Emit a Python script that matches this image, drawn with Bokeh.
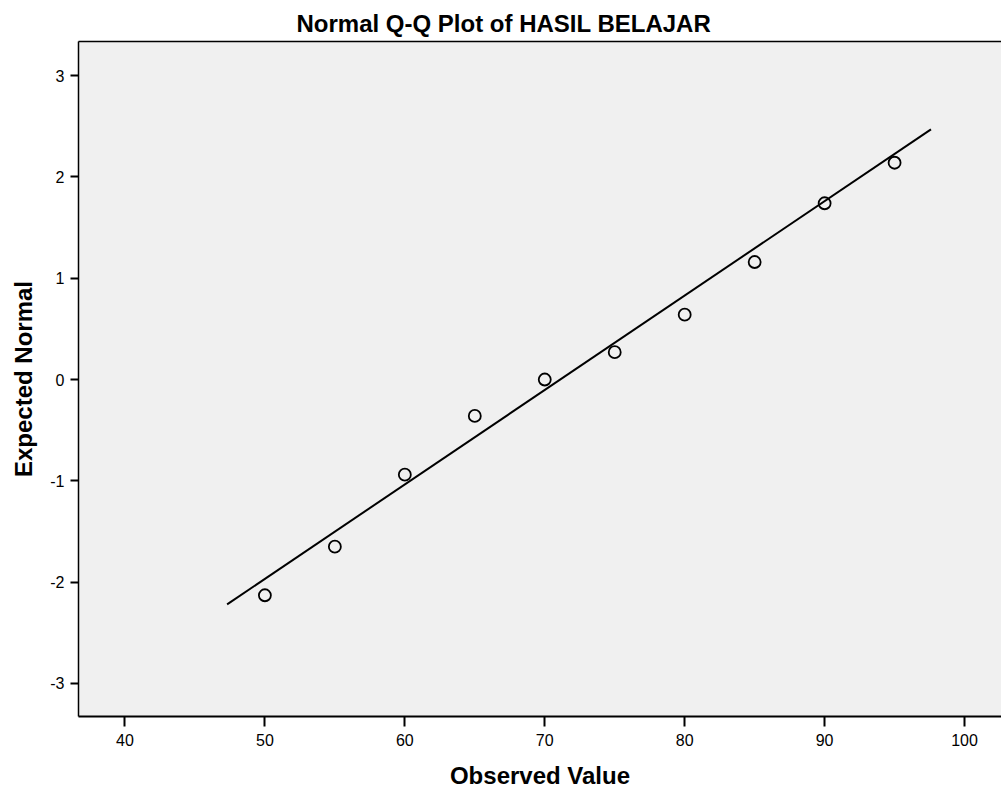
from bokeh.plotting import figure
from bokeh.models import Range1d, LinearAxis, FixedTicker, ColumnDataSource, PrintfTickFormatter
from bokeh.embed import file_html
from bokeh.resources import INLINE

# Data
observed = [50, 55, 60, 65, 70, 75, 80, 85, 90, 95]
expected = [-2.13, -1.65, -0.94, -0.36, 0.00, 0.27, 0.64, 1.16, 1.74, 2.14]
line_x = [47.3, 97.6]
line_y = [-2.22, 2.47]
x_ticks = [40, 50, 60, 70, 80, 90, 100]
y_ticks = [-3, -2, -1, 0, 1, 2, 3]

FONT = "Liberation Sans"

p = figure(width=1001, height=791, output_backend="svg", toolbar_location=None,
           x_range=Range1d(36.68, 102.64), y_range=Range1d(-3.327, 3.337),
           min_border_left=78, min_border_right=0, min_border_top=41, min_border_bottom=75,
           x_axis_location="below", y_axis_location="left")

p.background_fill_color = "#f0f0f0"
p.border_fill_color = "white"
p.outline_line_color = None
p.grid.visible = False

p.title.text = "Normal Q-Q Plot of HASIL BELAJAR"
p.title.text_font = FONT
p.title.text_font_size = "24px"
p.title.text_font_style = "bold"
p.title.text_color = "black"
p.title.align = "left"
p.title.offset = 218
p.title.standoff = 10

xa = p.xaxis[0]
xa.ticker = FixedTicker(ticks=x_ticks)
xa.formatter = PrintfTickFormatter(format="%d")
xa.axis_label = "Observed Value"
xa.axis_label_text_font = FONT
xa.axis_label_text_font_size = "24px"
xa.axis_label_text_font_style = "bold"
xa.axis_label_text_color = "black"
xa.axis_label_standoff = 13
xa.major_label_text_font = FONT
xa.major_label_text_font_size = "16px"
xa.major_label_text_color = "black"
xa.major_label_standoff = 7
xa.major_tick_out = 10
xa.major_tick_in = 0
xa.minor_tick_out = 0
xa.minor_tick_in = 0
xa.axis_line_width = 2
xa.major_tick_line_width = 2
xa.axis_line_color = "black"
xa.major_tick_line_color = "black"

ya = p.yaxis[0]
ya.ticker = FixedTicker(ticks=y_ticks)
ya.formatter = PrintfTickFormatter(format="%d")
ya.axis_label = "Expected Normal"
ya.axis_label_text_font = FONT
ya.axis_label_text_font_size = "24px"
ya.axis_label_text_font_style = "bold"
ya.axis_label_text_color = "black"
ya.axis_label_standoff = 10
ya.major_label_text_font = FONT
ya.major_label_text_font_size = "16px"
ya.major_label_text_color = "black"
ya.major_label_standoff = 6
ya.major_tick_out = 8
ya.major_tick_in = 0
ya.minor_tick_out = 0
ya.minor_tick_in = 0
ya.axis_line_width = 1.5
ya.major_tick_line_width = 2
ya.axis_line_color = "black"
ya.major_tick_line_color = "black"

top = LinearAxis(ticker=FixedTicker(ticks=[]), axis_line_width=1.5, axis_line_color="black",
                 major_tick_out=0, major_tick_in=0, minor_tick_out=0, minor_tick_in=0,
                 major_label_standoff=0, major_label_text_font_size="0px")
p.add_layout(top, "above")

p.line(line_x, line_y, line_color="black", line_width=2)

src = ColumnDataSource(dict(x=observed, y=expected))
p.scatter("x", "y", source=src, marker="circle", size=12, fill_color=None,
          line_color="black", line_width=1.8)

open("out.html", "w").write(file_html(p, INLINE))
